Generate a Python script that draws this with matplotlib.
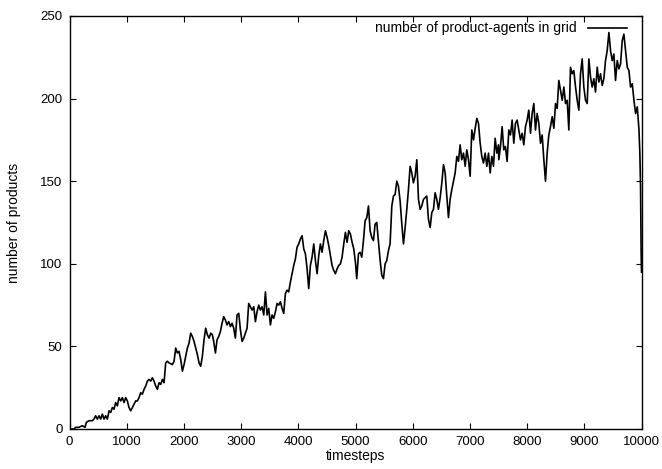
import matplotlib
matplotlib.use("Agg")
import matplotlib.pyplot as plt

# values (timestep, number of product-agents)
timesteps = [
    0, 79, 108, 166, 224, 271, 294, 341, 399, 428, 457, 487, 516, 545, 574, 603, 632, 661,
    691, 720, 749, 778, 807, 836, 865, 894, 924, 953, 982, 1011, 1040, 1069, 1098, 1128,
    1157, 1186, 1215, 1244, 1273, 1303, 1332, 1361, 1390, 1419, 1448, 1477, 1507, 1536,
    1565, 1594, 1623, 1652, 1681, 1710, 1740, 1798, 1827, 1856, 1885, 1914, 1944, 1973,
    2002, 2031, 2060, 2089, 2118, 2147, 2177, 2206, 2235, 2264, 2293, 2322, 2351, 2380,
    2410, 2439, 2468, 2497,
    2520, 2550, 2579, 2608, 2637, 2666, 2695, 2724, 2753, 2783, 2812, 2841, 2870, 2899,
    2928, 2958, 2987, 3016, 3045, 3074, 3103, 3132, 3161, 3190, 3220, 3249, 3278, 3307,
    3336, 3365, 3395, 3424, 3453, 3482, 3511, 3540, 3569, 3599, 3628, 3657, 3686, 3715,
    3744, 3773, 3802, 3831, 3861, 3890, 3919, 3948, 3977, 4006, 4035, 4065, 4094, 4123,
    4152, 4181, 4210, 4239, 4269, 4298, 4327, 4356, 4385, 4414, 4443, 4473, 4502, 4531,
    4560, 4589, 4618, 4647, 4677, 4706, 4735, 4764, 4793, 4822, 4851, 4880, 4909, 4939,
    4968, 4997,
    5020, 5050, 5079, 5108, 5137, 5166, 5196, 5225, 5254, 5283, 5312, 5341, 5370, 5400,
    5429, 5458, 5487, 5516, 5545, 5574, 5603, 5633, 5662, 5691, 5720, 5749, 5778, 5808,
    5837, 5866, 5895, 5924, 5953, 5982, 6011, 6040, 6070, 6099, 6128, 6157, 6186, 6215,
    6244, 6273, 6303, 6332, 6361, 6390, 6419, 6448, 6478, 6507, 6536, 6565, 6594, 6623,
    6652, 6682, 6711, 6740, 6769, 6798, 6827, 6856, 6886, 6915, 6944, 6973, 7002, 7031,
    7061, 7090, 7119, 7148, 7177, 7206, 7235, 7264, 7294, 7323, 7352, 7381, 7410, 7439,
    7469, 7497,
    7503, 7532, 7561, 7590, 7619, 7648, 7678, 7707, 7736, 7765, 7794, 7823, 7852, 7882,
    7911, 7940, 7969, 7998, 8027, 8057, 8086, 8115, 8144, 8173, 8202, 8232, 8261, 8290,
    8319, 8348, 8377, 8406, 8436, 8465, 8494, 8523, 8552, 8581, 8611, 8640, 8669, 8698,
    8727, 8756, 8785, 8814, 8844, 8873, 8902, 8931, 8960, 8989, 9019, 9048, 9077, 9106,
    9135, 9164, 9193, 9223, 9252, 9281, 9310, 9339, 9368, 9397, 9427, 9456, 9485, 9514,
    9543, 9573, 9602, 9631, 9660, 9689, 9718, 9748, 9777, 9806, 9835, 9865, 9894, 9923,
    9953, 9968, 9980, 9991, 9997,
]
products = [
    0, 0, 1, 1, 2, 1, 4, 5, 5, 6, 8, 6, 8, 6, 9, 6, 8, 6,
    11, 10, 13, 12, 16, 14, 19, 17, 19, 16, 19, 17, 13, 11, 13, 15,
    17, 17, 19, 22, 21, 24, 26, 29, 30, 29, 31, 29, 26, 24,
    28, 27, 30, 28, 40, 41, 40, 39, 41, 49, 46, 47, 42, 35,
    39, 44, 49, 52, 58, 56, 53, 49, 45, 40, 38, 44, 54, 61,
    57, 55, 58, 57,
    53, 46, 54, 56, 59, 64, 68, 66, 63, 65, 62, 64, 61, 55,
    69, 70, 60, 53, 55, 58, 61, 76, 74, 72, 74, 65, 71, 75,
    72, 74, 69, 83, 69, 73, 63, 69, 67, 71, 76, 75, 77, 73,
    70, 82, 84, 83, 89, 94, 99, 103, 110, 112, 115, 117, 109, 106,
    97, 85, 99, 104, 112, 102, 94, 105, 112, 107, 114, 120, 116, 111,
    105, 99, 96, 94, 97, 99, 100, 104, 112, 119, 113, 120, 118, 113,
    109, 101,
    91, 106, 107, 104, 114, 126, 128, 135, 120, 116, 114, 124, 125, 113,
    102, 93, 91, 100, 102, 108, 112, 135, 141, 142, 150, 147, 138, 124,
    112, 122, 133, 145, 159, 155, 149, 153, 163, 139, 133, 135, 139, 140,
    141, 127, 122, 131, 133, 143, 139, 133, 140, 149, 160, 155, 141, 128,
    139, 145, 150, 155, 165, 162, 172, 163, 167, 159, 169, 163, 153, 181,
    175, 182, 188, 185, 173, 165, 161, 167, 159, 167, 155, 165, 159, 176,
    167, 172,
    163, 171, 183, 169, 171, 162, 181, 178, 187, 173, 185, 187, 181, 175,
    179, 172, 183, 187, 193, 179, 191, 197, 181, 191, 185, 173, 178, 163,
    150, 167, 178, 183, 189, 182, 197, 194, 211, 205, 199, 207, 197, 199,
    181, 219, 215, 217, 207, 199, 193, 215, 224, 207, 199, 197, 224, 213,
    207, 212, 204, 219, 210, 215, 208, 212, 223, 229, 240, 229, 223, 227,
    211, 223, 218, 221, 235, 239, 229, 219, 217, 207, 209, 199, 191, 195,
    181, 167, 147, 106, 95,
]

x_ticks = [0, 1000, 2000, 3000, 4000, 5000, 6000, 7000, 8000, 9000, 10000]
y_ticks = [0, 50, 100, 150, 200, 250]

plt.rcParams["font.family"] = ["Liberation Sans", "DejaVu Sans"]
plt.rcParams["font.size"] = 9.5

fig = plt.figure(figsize=(6.62, 4.69), dpi=100)
ax = fig.add_axes([0.105, 0.0853, 0.8643, 0.8806])

ax.plot(timesteps, products, color="black", linewidth=1.2,
        label="number of product-agents in grid")

ax.set_xlim(0, 10000)
ax.set_ylim(0, 250)
ax.set_xticks(x_ticks)
ax.set_yticks(y_ticks)

# gnuplot look: inward ticks mirrored on every side
ax.tick_params(direction="in", length=4.3, width=0.8, top=True, right=True,
               labelsize=9.5, pad=5)
for spine in ax.spines.values():
    spine.set_linewidth(1.0)

ax.set_xlabel("timesteps", fontsize=10, labelpad=1)
ax.set_ylabel("number of products", fontsize=10, labelpad=14)

ax.legend(loc="upper right", markerfirst=False, frameon=False,
          handlelength=2.8, handletextpad=0.8, borderpad=0, borderaxespad=0,
          bbox_to_anchor=(0.9743, 0.987), fontsize=10)

fig.savefig("out.png", dpi=100)
